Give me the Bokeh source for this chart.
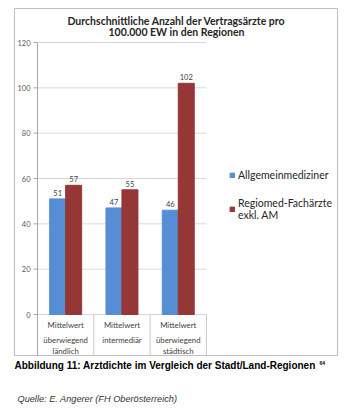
from bokeh.plotting import figure
from bokeh.models import Range1d, Legend, LegendItem
from bokeh.core.properties import value
from bokeh.embed import file_html
from bokeh.resources import INLINE

# ---------------- data ----------------
cat_line1 = ["Mittelwert", "Mittelwert", "Mittelwert"]
cat_line2 = ["überwiegend", "intermediär", "überwiegend"]
cat_line3 = ["ländlich", "", "städtisch"]
allgemein = [51, 47, 46]
fachaerzte = [57, 55, 102]
y_ticks = [0, 20, 40, 60, 80, 100, 120]
series_names = ["Allgemeinmediziner", "Regiomed-Fachärzte\nexkl. AM"]
title_lines = ["Durchschnittliche Anzahl der Vertragsärzte pro", "100.000 EW in den Regionen"]
caption = "Abbildung 11: Arztdichte im Vergleich der Stadt/Land-Regionen"
caption_sup = "64"
source = "Quelle: E. Angerer (FH Oberösterreich)"

BLUE = "#558ED5"
RED = "#953735"
W, H = 353, 419

# pixel layout helpers (screen px -> data coordinates)
PX_ZERO_Y = 314.0
PX_PER_UNIT = 272.0 / 120.0
PX_LEFT = 37.0
PX_CAT = 56.3


def X(px):
    return (px - PX_LEFT) / PX_CAT


def Y(py):
    return (PX_ZERO_Y - py) / PX_PER_UNIT


p = figure(width=W, height=H, output_backend="svg", toolbar_location=None,
           x_range=Range1d(X(0), X(W)), y_range=Range1d(Y(H), Y(0)),
           min_border=0, min_border_left=0, min_border_right=0,
           min_border_top=0, min_border_bottom=0)
p.axis.visible = False
p.grid.visible = False
p.outline_line_color = None
p.background_fill_color = "white"
p.border_fill_color = "white"

n = len(allgemein)
FONT = value("Lato")

# outer chart box
p.quad(left=[X(14)], right=[X(337)], top=[Y(8)], bottom=[Y(355)],
       fill_color=None, line_color="#BFBFBF", line_width=1)

# grid lines + ticks
p.segment(x0=[0] * len(y_ticks), x1=[n] * len(y_ticks), y0=y_ticks, y1=y_ticks,
          line_color="#D9D9D9", line_width=1)
p.segment(x0=[X(33)] * len(y_ticks), x1=[0] * len(y_ticks), y0=y_ticks, y1=y_ticks,
          line_color="#A6A6A6", line_width=1)
p.text(x=[X(30)] * len(y_ticks), y=y_ticks, text=[str(t) for t in y_ticks],
       text_align="right", text_baseline="middle", text_font=FONT,
       text_font_size="7.5px", text_color="#595959")

# axis line and category separators
p.segment(x0=[0], x1=[0], y0=[Y(355)], y1=[max(y_ticks)], line_color="#A6A6A6", line_width=1)
p.segment(x0=list(range(1, n + 1)), x1=list(range(1, n + 1)),
          y0=[Y(355)] * n, y1=[0] * n, line_color="#C8C8C8", line_width=1)

# bars
centers = [i + 0.5 for i in range(n)]
bw = 0.284
xb = [c - bw / 2 for c in centers]
xr = [c + bw / 2 for c in centers]
rb = p.vbar(x=xb, top=allgemein, width=bw, bottom=0, fill_color=BLUE, line_color=BLUE)
rr = p.vbar(x=xr, top=fachaerzte, width=bw, bottom=0, fill_color=RED, line_color=RED)

# value labels
p.text(x=xb, y=allgemein, text=[str(v) for v in allgemein], y_offset=-3,
       text_align="center", text_baseline="bottom", text_font=FONT,
       text_font_size="7.5px", text_color="#404040")
p.text(x=xr, y=fachaerzte, text=[str(v) for v in fachaerzte], y_offset=-3,
       text_align="center", text_baseline="bottom", text_font=FONT,
       text_font_size="7.5px", text_color="#404040")

# category labels
for lines, py in ((cat_line1, 324), (cat_line2, 339), (cat_line3, 350)):
    p.text(x=centers, y=[Y(py)] * n, text=lines, text_align="center",
           text_baseline="middle", text_font=FONT, text_font_size="7.8px",
           text_color="#404040")

# title
for line, py in zip(title_lines, (20, 31)):
    p.text(x=[X(176)], y=[Y(py)], text=[line], text_align="center",
           text_baseline="middle", text_font=FONT, text_font_size="10.5px",
           text_font_style="bold", text_color="#262626")

# legend
legend = Legend(items=[LegendItem(label=series_names[0], renderers=[rb]),
                       LegendItem(label=series_names[1], renderers=[rr])],
                location=(229, H - 221), orientation="vertical",
                glyph_width=6, glyph_height=6, label_standoff=3, spacing=16,
                padding=0, margin=0, border_line_alpha=0, background_fill_alpha=0,
                label_text_font="Lato", label_text_font_size="10.5px",
                label_text_color="#262626", label_height=10,
                label_text_line_height=1.1)
p.add_layout(legend, "center")

# caption and source
p.text(x=[X(14)], y=[Y(365)], text=[caption], text_align="left", text_baseline="middle",
       text_font=value("Liberation Sans"), text_font_size="10px",
       text_font_style="bold", text_color="#000000")
p.text(x=[X(319)], y=[Y(362)], text=[caption_sup], text_align="left", text_baseline="middle",
       text_font=value("Liberation Sans"), text_font_size="5px",
       text_font_style="bold", text_color="#000000")
p.text(x=[X(17)], y=[Y(398)], text=[source], text_align="left", text_baseline="middle",
       text_font=value("Liberation Sans"), text_font_size="9.2px",
       text_font_style="italic", text_color="#333333")

open("out.html", "w").write(file_html(p, INLINE))
